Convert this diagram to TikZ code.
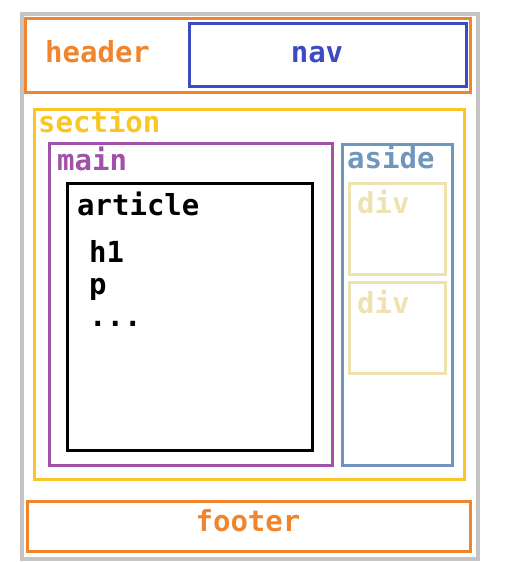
\documentclass[tikz,border=0pt]{standalone}
\usepackage{fontspec}
\setmonofont{DejaVu Sans Mono}
\definecolor{pagegray}{RGB}{196,196,196}
\definecolor{tagorange}{RGB}{240,133,45}
\definecolor{navblue}{RGB}{61,75,192}
\definecolor{secyellow}{RGB}{249,198,35}
\definecolor{mainpurple}{RGB}{160,82,168}
\definecolor{asideblue}{RGB}{113,150,190}
\definecolor{divpale}{RGB}{238,227,176}
\begin{document}
\begin{tikzpicture}[box/.style={draw,rectangle,anchor=north west,inner sep=0pt,line width=2.6pt},
  tag/.style={inner sep=0pt,anchor=base west,font=\ttfamily\bfseries\fontsize{29}{33}\selectfont},
  x=1pt,y=-1pt]
\useasboundingbox (0,0) rectangle (505,563);
% outer frame and boxes
\node[box,draw=pagegray,line width=4pt,minimum width=456pt,minimum height=545pt] (page) at (20,12) {};
\node[box,draw=tagorange,minimum width=445pt,minimum height=74pt] (header) at (24,17) {};
\node[box,draw=navblue,minimum width=277pt,minimum height=63pt] (nav) at (188,22) {};
\node[box,draw=secyellow,minimum width=430pt,minimum height=370pt] (section) at (33,108) {};
\node[box,draw=mainpurple,minimum width=283pt,minimum height=322pt] (main) at (48,142) {};
\node[box,draw=black,line width=3pt,minimum width=245pt,minimum height=267pt] (article) at (66,182) {};
\node[box,draw=asideblue,minimum width=110pt,minimum height=321pt] (aside) at (341,143) {};
\node[box,draw=divpale,minimum width=96pt,minimum height=91pt] (divA) at (348,182) {};
\node[box,draw=divpale,minimum width=96pt,minimum height=91pt] (divB) at (348,281) {};
\node[box,draw=tagorange,minimum width=443pt,minimum height=50pt] (footer) at (26,500) {};
% labels
\node[tag,text=tagorange] (headertxt) at (45,62) {header};
\node[tag,text=navblue,anchor=base] (navtxt) at (317,62) {nav};
\node[tag,text=secyellow] (sectiontxt) at (38,132) {section};
\node[tag,text=mainpurple] (maintxt) at (57,170) {main};
\node[tag,text=asideblue] (asidetxt) at (347,168) {aside};
\node[tag] (articletxt) at (77,215) {article};
\node[tag] (hone) at (89,262) {h1};
\node[tag] (ptxt) at (89,294) {p};
\node[tag] (dots) at (89,326) {...};
\node[tag,text=divpale] (divAtxt) at (357,213) {div};
\node[tag,text=divpale] (divBtxt) at (357,313) {div};
\node[tag,text=tagorange,anchor=base] (footertxt) at (248,531) {footer};
\end{tikzpicture}
\end{document}
